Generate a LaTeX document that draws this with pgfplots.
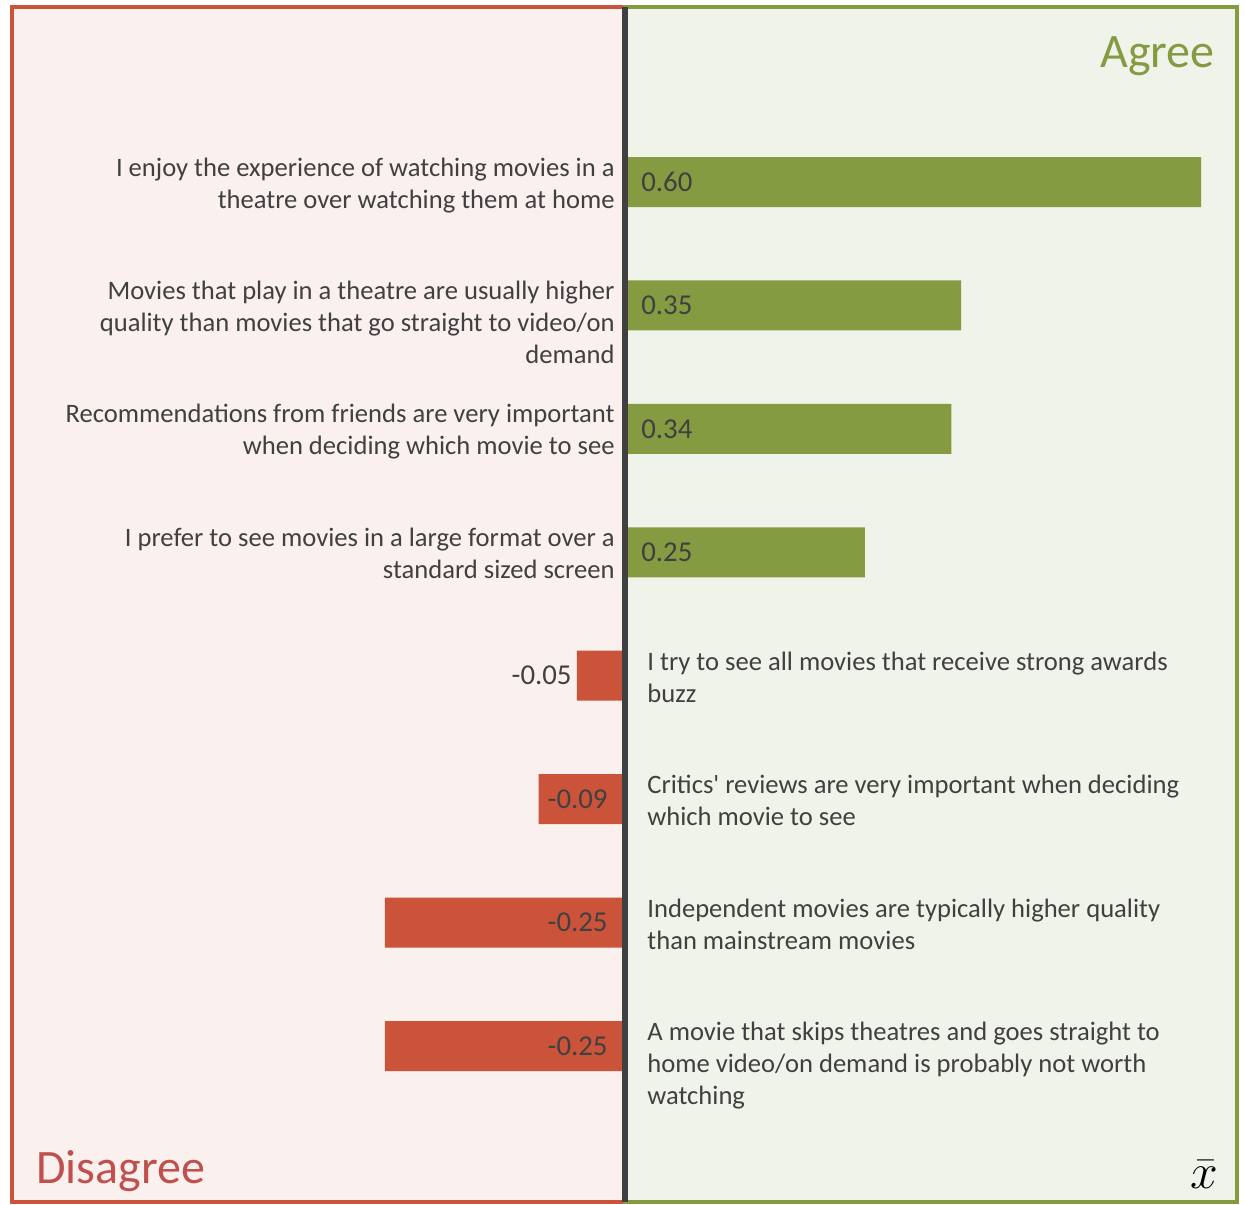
\documentclass[border=0pt]{standalone}
\usepackage{fontspec}
\setmainfont{Carlito}
\usepackage{pgfplots}
\pgfplotsset{compat=1.18}
\definecolor{agreegreen}{RGB}{132,155,66}
\definecolor{disred}{RGB}{203,83,58}
\definecolor{pinkbg}{RGB}{250,240,238}
\definecolor{greenbg}{RGB}{240,243,233}
\definecolor{txt}{RGB}{64,64,64}
\definecolor{distxt}{RGB}{192,80,77}
\definecolor{midline}{RGB}{64,64,64}
\tikzset{lbl/.style={text=txt, font=\fontsize{13.3}{16}\selectfont, inner sep=0pt},
  val/.style={text=txt, font=\fontsize{14.4}{17}\selectfont, inner sep=0pt}}
\begin{document}
\begin{tikzpicture}
\useasboundingbox (-6pt,-1pt) rectangle (616.5pt,601pt);
\begin{axis}[at={(0,0)}, anchor=south west, scale only axis,
  width=612.5pt, height=597.5pt,
  xmin=-0.6385, xmax=0.6375, ymin=-0.418, ymax=9.264, y dir=reverse,
  axis lines=none, clip=false, xbar, bar width=25pt, bar shift=0pt]
\fill[pinkbg] (axis cs:-0.6385,-0.418) rectangle (axis cs:0,9.264);
\fill[greenbg] (axis cs:0,-0.418) rectangle (axis cs:0.6375,9.264);
\addplot[fill=agreegreen, draw=none] coordinates {(0.60,1) (0.35,2) (0.34,3) (0.25,4)};
\addplot[fill=disred, draw=none] coordinates {(-0.05,5) (-0.09,6) (-0.25,7) (-0.25,8)};
\draw[disred, line width=2pt] (axis cs:-0.6385,-0.418) rectangle (axis cs:0,9.264);
\draw[agreegreen, line width=2pt] (axis cs:0,-0.418) rectangle (axis cs:0.6375,9.264);
\draw[midline, line width=3pt] (axis cs:0,-0.418) -- (axis cs:0,9.264);
% value labels
\node[val, anchor=west, xshift=8pt] at (axis cs:0,1) {0.60};
\node[val, anchor=west, xshift=8pt] at (axis cs:0,2) {0.35};
\node[val, anchor=west, xshift=8pt] at (axis cs:0,3) {0.34};
\node[val, anchor=west, xshift=8pt] at (axis cs:0,4) {0.25};
\node[val, anchor=east, xshift=-2.5pt] at (axis cs:-0.05,5) {-0.05};
\node[val, anchor=east, xshift=-8.5pt] at (axis cs:0,6) {-0.09};
\node[val, anchor=east, xshift=-8.5pt] at (axis cs:0,7) {-0.25};
\node[val, anchor=east, xshift=-8.5pt] at (axis cs:0,8) {-0.25};
% category labels
\node[lbl, anchor=north east, align=right, xshift=-5pt, yshift=12.4pt] at (axis cs:0,1) {I enjoy the experience of watching movies in a\\theatre over watching them at home};
\node[lbl, anchor=north east, align=right, xshift=-5pt, yshift=12.4pt] at (axis cs:0,2) {Movies that play in a theatre are usually higher\\quality than movies that go straight to video/on\\demand};
\node[lbl, anchor=north east, align=right, xshift=-5pt, yshift=12.4pt] at (axis cs:0,3) {Recommendations from friends are very important\\when deciding which movie to see};
\node[lbl, anchor=north east, align=right, xshift=-5pt, yshift=12.4pt] at (axis cs:0,4) {I prefer to see movies in a large format over a\\standard sized screen};
\node[lbl, anchor=north west, align=left, xshift=11pt, yshift=12.2pt] at (axis cs:0,5) {I try to see all movies that receive strong awards\\buzz};
\node[lbl, anchor=north west, align=left, xshift=11pt, yshift=12.2pt] at (axis cs:0,6) {Critics\textquotesingle{} reviews are very important when deciding\\which movie to see};
\node[lbl, anchor=north west, align=left, xshift=11pt, yshift=12.2pt] at (axis cs:0,7) {Independent movies are typically higher quality\\than mainstream movies};
\node[lbl, anchor=north west, align=left, xshift=11pt, yshift=12.2pt] at (axis cs:0,8) {A movie that skips theatres and goes straight to\\home video/on demand is probably not worth\\watching};
% corner titles
\node[inner sep=0pt, anchor=base east, xshift=-11pt, yshift=-30.5pt, text=agreegreen, font=\fontsize{24}{28}\selectfont] at (axis cs:0.6375,-0.418) {Agree};
\node[inner sep=0pt, anchor=base west, xshift=12pt, yshift=9.5pt, text=distxt, font=\fontsize{24}{28}\selectfont] at (axis cs:-0.6385,9.264) {Disagree};
\node[inner sep=0pt, anchor=base east, xshift=-9pt, yshift=7pt, text=black, font=\fontsize{32}{36}\selectfont] at (axis cs:0.6375,9.264) {$\bar{x}$};
\end{axis}
\end{tikzpicture}
\end{document}
